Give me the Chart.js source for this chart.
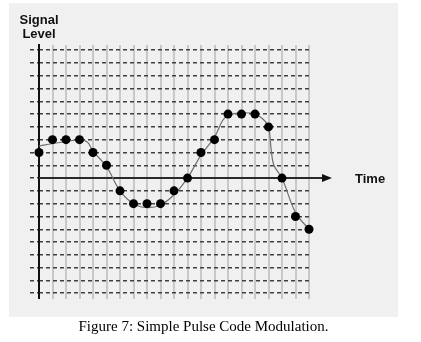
<!DOCTYPE html>
<html lang="en">
<head>
    <meta charset="UTF-8">
    <title>Simple Pulse Code Modulation</title>
    <script src="https://cdn.jsdelivr.net/npm/chart.js"></script>
    <style>
        body { margin: 0; background: #fff; }
        .wrap { position: relative; width: 421px; height: 342px; }
        .panel { position: absolute; left: 9px; top: 3px; width: 389px; height: 314px; background: #f0f0f0; }
        .box { position: absolute; left: 0; top: 0; width: 421px; height: 342px; }
        .lbl { position: absolute; font-family: "Liberation Sans", Arial, sans-serif; font-weight: bold; font-size: 13px; line-height: 13px; color: #111; }
        .caption { position: absolute; left: 0; width: 407px; top: 319px; text-align: center; font-family: "Liberation Serif", "Times New Roman", serif; font-size: 15px; line-height: 15px; color: #000; }
    </style>
</head>
<body>
    <div class="wrap">
        <div class="panel"></div>
        <div class="box"><canvas id="pcm"></canvas></div>
        <div class="lbl" style="left:9px; width:60px; top:13px; text-align:center;">Signal<br><span style="position:relative; top:1px;">Level</span></div>
        <div class="lbl" style="left:355px; top:172px;">Time</div>
        <div class="caption">Figure 7: Simple Pulse Code Modulation.</div>
    </div>

    <script>
        // sampled values (one per time step)
        var timeSteps = [0, 1, 2, 3, 4, 5, 6, 7, 8, 9, 10, 11, 12, 13, 14, 15, 16, 17, 18, 19, 20];
        var sampleLevels = [2, 3, 3, 3, 2, 1, -1, -2, -2, -2, -1, 0, 2, 3, 5, 5, 5, 4, 0, -3, -4];

        // analog signal
        var analogTimes = [0, 1, 2, 3, 3.6, 4, 5, 6, 7, 8, 9, 10, 11, 12, 13, 13.6, 14, 15, 16, 16.6, 17, 17.2, 17.4, 18, 19, 20];
        var analogLevels = [2.5, 2.7, 2.85, 3.0, 2.8, 2.1, 0.9, -1.0, -2.0, -2.3, -2.1, -1.3, 0, 1.8, 3.2, 4.5, 4.9, 5.1, 5.0, 4.6, 4.0, 2.2, 1.0, 0, -2.7, -4.0];

        var levelTicks = [-9, -8, -7, -6, -5, -4, -3, -2, -1, 0, 1, 2, 3, 4, 5, 6, 7, 8, 9, 10];

        var samplePoints = timeSteps.map(function (t, i) { return { x: t, y: sampleLevels[i] }; });
        var analogPoints = analogTimes.map(function (t, i) { return { x: t, y: analogLevels[i] }; });

        // draws the two main axes, the x one with an arrow head
        var axesPlugin = {
            id: 'axes',
            beforeDatasetsDraw: function (chart) {
                var ctx = chart.ctx;
                var xs = chart.scales.x, ys = chart.scales.y;
                var x0 = xs.getPixelForValue(0);
                var y0 = ys.getPixelForValue(0);
                var area = chart.chartArea;
                ctx.save();
                ctx.strokeStyle = '#111';
                ctx.lineWidth = 2;
                ctx.beginPath();
                ctx.moveTo(x0, area.top - 1);
                ctx.lineTo(x0, area.bottom);
                ctx.stroke();

                ctx.strokeStyle = '#2a2a2a';
                ctx.beginPath();
                ctx.moveTo(x0, y0);
                ctx.lineTo(324, y0);
                ctx.stroke();
                ctx.fillStyle = '#111';
                ctx.beginPath();
                ctx.moveTo(332, y0);
                ctx.lineTo(322, y0 - 4);
                ctx.lineTo(322, y0 + 4);
                ctx.closePath();
                ctx.fill();
                ctx.restore();
            }
        };

        new Chart(document.getElementById('pcm'), {
            type: 'scatter',
            data: {
                datasets: [{
                    data: samplePoints,
                    pointRadius: 4.5,
                    pointBackgroundColor: '#000',
                    pointBorderWidth: 0,
                    showLine: false,
                    clip: false
                }, {
                    data: analogPoints,
                    showLine: true,
                    borderColor: '#707070',
                    borderWidth: 1.2,
                    tension: 0.35,
                    pointRadius: 0,
                    clip: false
                }]
            },
            options: {
                responsive: true,
                maintainAspectRatio: false,
                animation: false,
                layout: { autoPadding: false, padding: { left: 30, right: 112, top: 45, bottom: 43 } },
                plugins: { legend: { display: false }, tooltip: { enabled: false } },
                scales: {
                    x: {
                        type: 'linear',
                        min: 0,
                        max: 20,
                        afterBuildTicks: function (s) { s.ticks = timeSteps.map(function (v) { return { value: v }; }); },
                        afterFit: function (s) { s.height = 0; },
                        ticks: { display: false },
                        grid: { color: '#c8c8c8', lineWidth: 2, drawTicks: false },
                        border: { display: false }
                    },
                    y: {
                        type: 'linear',
                        min: -9.45,
                        max: 10.4,
                        afterBuildTicks: function (s) { s.ticks = levelTicks.map(function (v) { return { value: v }; }); },
                        afterFit: function (s) { s.width = 9; },
                        ticks: { display: false },
                        grid: { color: '#404040', lineWidth: 1.5, drawTicks: true, tickLength: 9, tickBorderDash: [4, 3] },
                        border: { display: false, dash: [4, 3] }
                    }
                }
            },
            plugins: [axesPlugin]
        });
    </script>
</body>
</html>
